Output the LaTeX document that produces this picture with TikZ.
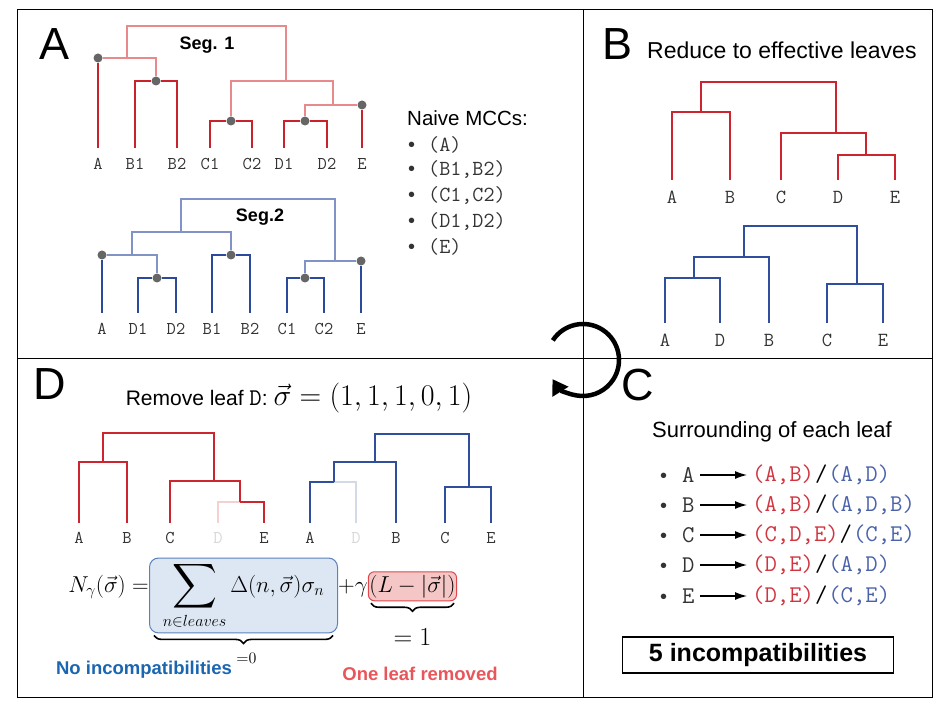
\RequirePackage{fix-cm}
\documentclass[tikz,border=0pt]{standalone}
\usepackage[no-math]{fontspec}
\usepackage{amsmath}
\usepackage{exscale}
\usepackage{graphicx}
\newfontfamily\sansf{Liberation Sans}
\usetikzlibrary{positioning,arrows.meta,decorations.pathreplacing}
\definecolor{segred}{HTML}{C8232D}
\definecolor{segredl}{HTML}{E8898B}
\definecolor{segblue}{HTML}{2B4A9B}
\definecolor{segbluel}{HTML}{8193C6}
\definecolor{treered}{HTML}{CC2530}
\definecolor{treeblue}{HTML}{2F4E9E}
\definecolor{fadered}{HTML}{F4D0D0}
\definecolor{fadeblue}{HTML}{D3D9E6}
\definecolor{fadetext}{HTML}{D8D8D8}
\definecolor{dotgray}{HTML}{666666}
\definecolor{leafgray}{HTML}{333333}
\definecolor{sumfill}{HTML}{DDE7F3}
\definecolor{sumline}{HTML}{5A82BC}
\definecolor{lfill}{HTML}{F5C6C6}
\definecolor{lline}{HTML}{E0474C}
\definecolor{noinc}{HTML}{1A66B0}
\definecolor{oneleaf}{HTML}{E8565A}
\definecolor{cred}{HTML}{D0343F}
\definecolor{cblue}{HTML}{4A62AA}
\newcommand{\bul}{{\sansf\fontsize{20}{20}\selectfont\textbullet}}
\begin{document}
\begin{tikzpicture}[x=1pt,y=-1pt,
  frame/.style={line width=1pt},
  bigletter/.style={font=\sansf\fontsize{45}{45}\selectfont, inner sep=0pt},
  heading/.style={font=\sansf\fontsize{22}{22}\selectfont, inner sep=0pt},
  seglabel/.style={font=\sansf\bfseries\fontsize{18}{18}\selectfont, inner sep=0pt},
  leafa/.style={font=\ttfamily\fontsize{18}{18}\selectfont, text=leafgray, anchor=north, inner sep=0pt, text height=21pt, text depth=0pt},
  leafb/.style={font=\ttfamily\fontsize{20}{20}\selectfont, text=leafgray, anchor=north, inner sep=0pt, text height=23pt, text depth=0pt},
  leafd/.style={font=\ttfamily\fontsize{18}{18}\selectfont, text=leafgray, anchor=north, inner sep=0pt, text height=20pt, text depth=0pt},
  mcc/.style={font=\ttfamily\fontsize{21.5}{21.5}\selectfont, text=leafgray, anchor=west, inner sep=0pt},
  dot/.style={circle, fill=dotgray, inner sep=0pt, minimum size=9pt},
  redmcc/.style={draw=segred, line width=2.6pt},
  redlink/.style={draw=segredl, line width=1.3pt},
  bluemcc/.style={draw=segblue, line width=2.6pt},
  bluelink/.style={draw=segbluel, line width=1.3pt},
  redtree/.style={draw=treered, line width=1.8pt},
  bluetree/.style={draw=treeblue, line width=1.8pt},
  fadedred/.style={draw=fadered, line width=1.8pt},
  fadedblue/.style={draw=fadeblue, line width=1.8pt},
  sumbox/.style={draw=sumline, fill=sumfill, line width=1pt, rounded corners=9pt, inner xsep=3pt, minimum height=69pt, minimum width=188pt},
  lbox/.style={draw=lline, fill=lfill, line width=1pt, rounded corners=6pt, inner xsep=1pt, inner ysep=3pt},
  ubrace/.style={decorate, decoration={brace, mirror, amplitude=8pt}, line width=1.6pt},
  rowleaf/.style={font=\ttfamily\fontsize{24}{24}\selectfont, text=leafgray, anchor=west, inner xsep=5pt},
  rowpair/.style={font=\ttfamily\fontsize{24}{24}\selectfont, anchor=west, inner xsep=0pt},
  leadarrow/.style={-{Latex[length=12pt,width=8pt]}, line width=1.2pt, shorten >=5pt},
  turnarrow/.style={line width=4.5pt, -{Triangle[length=15pt,width=18pt]}}]
\useasboundingbox (0,0) rectangle (952,708);
% frame and panels
\draw[frame] (17,10) rectangle (932,697);
\draw[frame] (17,358) -- (932,358);
\draw[frame] (583,10) -- (583,697);
\node[bigletter] (labA) at (55,44) {A};
\node[bigletter] (labB) at (617,44) {B};
\node[bigletter] (labC) at (638,385) {C};
\node[bigletter] (labD) at (50,384) {D};
\draw[turnarrow] (583,360) ++(-147:36) arc[start angle=-147, end angle=148, radius=36];

% A: segment 1
\node[seglabel] (seg1) at (207,45) {Seg. 1};
\node[leafa] (s1A) at (98,148) {A};
\node[leafa] (s1B1) at (135,148) {B1};
\node[leafa] (s1B2) at (177,148) {B2};
\node[leafa] (s1C1) at (210,148) {C1};
\node[leafa] (s1C2) at (252,148) {C2};
\node[leafa] (s1D1) at (284,148) {D1};
\node[leafa] (s1D2) at (327,148) {D2};
\node[leafa] (s1E) at (362,148) {E};
\node[dot] (n1A) at (98,58) {};
\node[dot] (n1B) at (156,81) {};
\node[dot] (n1C) at (231,121) {};
\node[dot] (n1D) at (305,121) {};
\node[dot] (n1E) at (362,105) {};
\coordinate (j1AB) at (127,58);
\coordinate (j1R) at (206,26);
\coordinate (j1CDE) at (286,81);
\coordinate (j1DE) at (333,105);
\draw[redlink] (n1A) -| (n1B);
\draw[redlink] (j1AB) |- (j1R) -| (j1CDE);
\draw[redlink] (n1C) |- (j1CDE) -| (j1DE);
\draw[redlink] (n1D) |- (n1E);
\draw[redmcc] (s1A.north) -- (n1A);
\draw[redmcc] (s1B1.north) |- (n1B) -| (s1B2.north);
\draw[redmcc] (s1C1.north) |- (n1C) -| (s1C2.north);
\draw[redmcc] (s1D1.north) |- (n1D) -| (s1D2.north);
\draw[redmcc] (s1E.north) -- (n1E);

% A: segment 2
\node[seglabel] (seg2) at (260,217) {Seg.2};
\node[leafa] (s2A) at (102,313) {A};
\node[leafa] (s2D1) at (138,313) {D1};
\node[leafa] (s2D2) at (176,313) {D2};
\node[leafa] (s2B1) at (212,313) {B1};
\node[leafa] (s2B2) at (250,313) {B2};
\node[leafa] (s2C1) at (287,313) {C1};
\node[leafa] (s2C2) at (324,313) {C2};
\node[leafa] (s2E) at (361,313) {E};
\node[dot] (n2A) at (102,255) {};
\node[dot] (n2D) at (157,278) {};
\node[dot] (n2B) at (231,255) {};
\node[dot] (n2C) at (305,278) {};
\node[dot] (n2E) at (361,261) {};
\coordinate (j2AD) at (132,255);
\coordinate (j2ADB) at (181,232);
\coordinate (j2R) at (258,199);
\coordinate (j2CE) at (335,261);
\draw[bluelink] (n2A) -| (n2D);
\draw[bluelink] (j2AD) |- (j2ADB) -| (n2B);
\draw[bluelink] (j2ADB) |- (j2R) -| (j2CE);
\draw[bluelink] (n2C) |- (n2E);
\draw[bluemcc] (s2A.north) -- (n2A);
\draw[bluemcc] (s2D1.north) |- (n2D) -| (s2D2.north);
\draw[bluemcc] (s2B1.north) |- (n2B) -| (s2B2.north);
\draw[bluemcc] (s2C1.north) |- (n2C) -| (s2C2.north);
\draw[bluemcc] (s2E.north) -- (n2E);

% A: naive MCCs
\node[heading, anchor=west, font=\sansf\fontsize{20.5}{20.5}\selectfont] (mcctitle) at (407,118) {Naive MCCs:};
\node[mcc] (mcc1) at (408,145) {\bul\hspace{13pt}(A)};
\node[mcc] (mcc2) at (408,170) {\bul\hspace{13pt}(B1,B2)};
\node[mcc] (mcc3) at (408,196) {\bul\hspace{13pt}(C1,C2)};
\node[mcc] (mcc4) at (408,222) {\bul\hspace{13pt}(D1,D2)};
\node[mcc] (mcc5) at (408,247) {\bul\hspace{13pt}(E)};

% B: effective leaves
\node[heading, anchor=west, font=\sansf\fontsize{23}{23}\selectfont] (redtitle) at (647,50) {Reduce to effective leaves};
\node[leafb] (bA) at (672,180) {A};
\node[leafb] (bB) at (730,180) {B};
\node[leafb] (bC) at (781,180) {C};
\node[leafb] (bD) at (838,180) {D};
\node[leafb] (bE) at (895,180) {E};
\coordinate (bAB) at (701,112);
\coordinate (bR) at (768,82);
\coordinate (bCDE) at (836,133);
\coordinate (bDE) at (866,155);
\draw[redtree] (bA.north) |- (bAB) -| (bB.north);
\draw[redtree] (bD.north) |- (bDE) -| (bE.north);
\draw[redtree] (bC.north) |- (bCDE) -| (bDE);
\draw[redtree] (bAB) |- (bR) -| (bCDE);
\node[leafb] (cA) at (665,323) {A};
\node[leafb] (cD) at (720,323) {D};
\node[leafb] (cB) at (769,323) {B};
\node[leafb] (cC) at (827,323) {C};
\node[leafb] (cE) at (883,323) {E};
\coordinate (cAD) at (694,278);
\coordinate (cADB) at (744,257);
\coordinate (cR) at (800,226);
\coordinate (cCE) at (857,284);
\draw[bluetree] (cA.north) |- (cAD) -| (cD.north);
\draw[bluetree] (cAD) |- (cADB) -| (cB.north);
\draw[bluetree] (cC.north) |- (cCE) -| (cE.north);
\draw[bluetree] (cADB) |- (cR) -| (cCE);

% C: surroundings
\node[heading] (surtitle) at (772,432) {Surrounding of each leaf};
\node[rowleaf] (rA) at (655,475) {\bul\hspace{15pt}A};
\node[rowleaf] (rB) at (655,505) {\bul\hspace{15pt}B};
\node[rowleaf] (rC) at (655,535) {\bul\hspace{15pt}C};
\node[rowleaf] (rD) at (655,565) {\bul\hspace{15pt}D};
\node[rowleaf] (rE) at (655,596) {\bul\hspace{15pt}E};
\node[rowpair] (pA) at (752,475) {{\color{cred}(A,B)}\hspace{1pt}/\hspace{1pt}{\color{cblue}(A,D)}};
\node[rowpair] (pB) at (752,505) {{\color{cred}(A,B)}\hspace{1pt}/\hspace{1pt}{\color{cblue}(A,D,B)}};
\node[rowpair] (pC) at (752,535) {{\color{cred}(C,D,E)}\hspace{1pt}/\hspace{1pt}{\color{cblue}(C,E)}};
\node[rowpair] (pD) at (752,565) {{\color{cred}(D,E)}\hspace{1pt}/\hspace{1pt}{\color{cblue}(A,D)}};
\node[rowpair] (pE) at (752,596) {{\color{cred}(D,E)}\hspace{1pt}/\hspace{1pt}{\color{cblue}(C,E)}};
\draw[leadarrow] (rA) -- (pA);
\draw[leadarrow] (rB) -- (pB);
\draw[leadarrow] (rC) -- (pC);
\draw[leadarrow] (rD) -- (pD);
\draw[leadarrow] (rE) -- (pE);
\node[draw, line width=1.2pt, minimum width=271pt, minimum height=36pt, font=\sansf\bfseries\fontsize{25}{25}\selectfont] (inc) at (758,655) {5 incompatibilities};

% D: remove leaf D
\node[font=\sansf\fontsize{21}{21}\selectfont, inner sep=0pt] (rmtitle) at (299,398) {Remove leaf {\ttfamily\fontsize{24}{24}\selectfont D}: {\fontsize{30}{30}\selectfont$\vec\sigma=(1,1,1,0,1)$}};
\node[leafd] (dA) at (79,523) {A};
\node[leafd] (dB) at (127,523) {B};
\node[leafd] (dC) at (170,523) {C};
\node[leafd, text=fadetext] (dD) at (218,523) {D};
\node[leafd] (dE) at (264,523) {E};
\coordinate (dAB) at (103,462);
\coordinate (dR) at (158,433);
\coordinate (dCDE) at (214,481);
\coordinate (dDE) at (240,502);
\draw[fadedred] (dDE) -| (dD.north);
\draw[redtree] (dA.north) |- (dAB) -| (dB.north);
\draw[redtree] (dAB) |- (dR) -| (dCDE);
\draw[redtree] (dC.north) |- (dCDE) -| (dDE);
\draw[redtree] (dDE) -| (dE.north);
\node[leafd] (eA) at (310,523) {A};
\node[leafd, text=fadetext] (eD) at (356,523) {D};
\node[leafd] (eB) at (396,523) {B};
\node[leafd] (eC) at (445,523) {C};
\node[leafd] (eE) at (491,523) {E};
\coordinate (eAD) at (334,482);
\coordinate (eADB) at (375,462);
\coordinate (eR) at (422,434);
\coordinate (eCE) at (469,487);
\draw[fadedblue] (eAD) -| (eD.north);
\draw[bluetree] (eA.north) |- (eAD);
\draw[bluetree] (eAD) |- (eADB) -| (eB.north);
\draw[bluetree] (eADB) |- (eR) -| (eCE);
\draw[bluetree] (eC.north) |- (eCE) -| (eE.north);

% D: cost
\node[anchor=base east, inner sep=0pt, font=\fontsize{23}{23}\selectfont] (lhs) at (149,592) {$N_\gamma(\vec\sigma)=$};
\node[sumbox, anchor=base west, font=\fontsize{23}{23}\selectfont] (sum) at (lhs.base east) {$\displaystyle\mathop{\vcenter{\hbox{\scalebox{1.25}{$\displaystyle\sum$}}}}\limits_{n\in leaves}\Delta(n,\vec\sigma)\sigma_n$};
\node[anchor=base west, inner sep=0pt, font=\fontsize{23}{23}\selectfont] (plusg) at (sum.base east) {${+}\gamma$};
\node[lbox, anchor=base west, font=\fontsize{23}{23}\selectfont] (lterm) at (plusg.base east) {$(L-|\vec\sigma|)$};
\draw[ubrace] ([xshift=5pt,yshift=-2pt]sum.south west) -- ([xshift=-5pt,yshift=-2pt]sum.south east);
\draw[ubrace] ([xshift=3pt,yshift=-2pt]lterm.south west) -- ([xshift=-3pt,yshift=-2pt]lterm.south east);
\node[font=\fontsize{16}{16}\selectfont, inner sep=0pt] (zero) at ([xshift=3pt,yshift=-25pt]sum.south) {${=}0$};
\node[font=\fontsize{26}{26}\selectfont, inner sep=0pt] (one) at ([yshift=-36pt]lterm.south) {$=1$};
\node[font=\sansf\bfseries\fontsize{18.5}{18.5}\selectfont, text=noinc, inner sep=0pt] (noinctext) at (144,670) {No incompatibilities};
\node[font=\sansf\bfseries\fontsize{18.5}{18.5}\selectfont, text=oneleaf, inner sep=0pt] (oneleaftext) at (420,674) {One leaf removed};
\end{tikzpicture}
\end{document}
